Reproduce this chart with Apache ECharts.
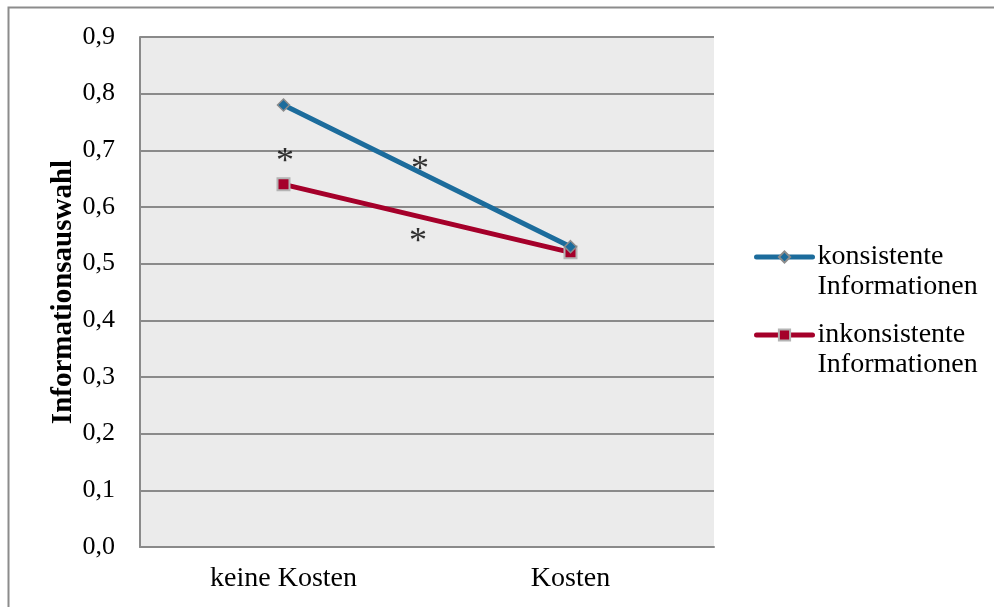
<!DOCTYPE html>
<html>
<head>
<meta charset="utf-8">
<script src="https://cdn.jsdelivr.net/npm/echarts@6/dist/echarts.min.js"></script>
<style>
  html, body { margin: 0; padding: 0; background: #fff; }
  #chart { width: 994px; height: 607px; }
</style>
</head>
<body>
<div id="chart"></div>
<script>
// Categories and series values
const categories = ['keine Kosten', 'Kosten'];
const konsistent = [0.78, 0.53];
const inkonsistent = [0.64, 0.52];
const yTicks = { min: 0, max: 0.9, interval: 0.1 };
const seriesNames = ['konsistente\nInformationen', 'inkonsistente\nInformationen'];
// Significance markers: [position along categories (0..2), value]
const sigMarks = [[0.505, 0.692], [0.976, 0.678], [0.969, 0.551]];

const FONT = '"Liberation Serif", "DejaVu Serif", serif';
const chart = echarts.init(document.getElementById('chart'));

// One legend block per series; an empty leading line of the same height
// keeps the swatch level with the first line of the two-line label.
function legendBlock(name, top) {
  return {
    orient: 'vertical',
    left: 754, top: top,
    padding: 0,
    itemWidth: 56, itemHeight: 14,
    itemGap: 4,
    lineStyle: { width: 5, cap: 'round' },
    formatter: n => '{s| }\n' + n.split('\n').map(p => '{t|' + p + '}').join('\n'),
    textStyle: {
      color: '#000', fontSize: 28, fontFamily: FONT,
      rich: {
        s: { lineHeight: 30, fontSize: 28, fontFamily: FONT },
        t: { lineHeight: 30, fontSize: 28, fontFamily: FONT, color: '#000' }
      }
    },
    data: [{ name: name }]
  };
}

chart.setOption({
  animation: false,
  backgroundColor: '#ffffff',
  textStyle: { fontFamily: FONT },
  graphic: [{
    type: 'rect',
    shape: { x: 8.5, y: 7.5, width: 1100, height: 700 },
    style: { fill: 'none', stroke: '#8c8c8c', lineWidth: 2 },
    silent: true
  }],
  grid: {
    left: 140, top: 37, width: 574, height: 510,
    show: true, backgroundColor: '#ebebeb', borderWidth: 0
  },
  xAxis: [{
    type: 'category',
    data: categories,
    boundaryGap: true,
    axisLine: { show: true, lineStyle: { color: '#8a8a8a', width: 2 } },
    axisTick: { show: false },
    axisLabel: { color: '#000', fontSize: 28, fontFamily: FONT, margin: 18 },
    splitLine: { show: false }
  }, {
    type: 'value', min: 0, max: 2, show: false
  }],
  yAxis: {
    type: 'value',
    min: yTicks.min, max: yTicks.max, interval: yTicks.interval,
    name: 'Informationsauswahl',
    nameLocation: 'middle',
    nameGap: 62,
    nameMoveOverlap: false,
    nameRotate: 90,
    nameTextStyle: { color: '#000', fontSize: 29, fontWeight: 'bold', fontFamily: FONT },
    axisLine: { show: true, lineStyle: { color: '#8a8a8a', width: 2 } },
    axisTick: { show: false },
    axisLabel: {
      color: '#000', fontSize: 26, fontFamily: FONT, margin: 25,
      formatter: v => v.toFixed(1).replace('.', ',')
    },
    splitLine: { show: true, lineStyle: { color: '#8a8a8a', width: 2 } }
  },
  legend: [
    legendBlock(seriesNames[0], 213),
    legendBlock(seriesNames[1], 291)
  ],
  series: [{
    name: seriesNames[0],
    type: 'line',
    data: konsistent,
    lineStyle: { color: '#1c6c9c', width: 5, cap: 'round' },
    itemStyle: { color: '#1c6c9c', borderColor: '#8c8c8c', borderWidth: 1.5 },
    symbol: 'diamond', symbolSize: 12,
    z: 3
  }, {
    name: seriesNames[1],
    type: 'line',
    data: inkonsistent,
    lineStyle: { color: '#a5002a', width: 5, cap: 'round' },
    itemStyle: { color: '#a5002a', borderColor: '#b4b4b4', borderWidth: 2 },
    symbol: 'rect', symbolSize: 12,
    z: 2
  }, {
    type: 'scatter',
    xAxisIndex: 1,
    data: sigMarks,
    symbolSize: 1,
    itemStyle: { color: 'rgba(0,0,0,0)' },
    label: {
      show: true, position: 'inside', formatter: '*',
      color: '#000', fontSize: 36, fontFamily: FONT, offset: [0, 8]
    },
    silent: true
  }]
});
</script>
</body>
</html>
